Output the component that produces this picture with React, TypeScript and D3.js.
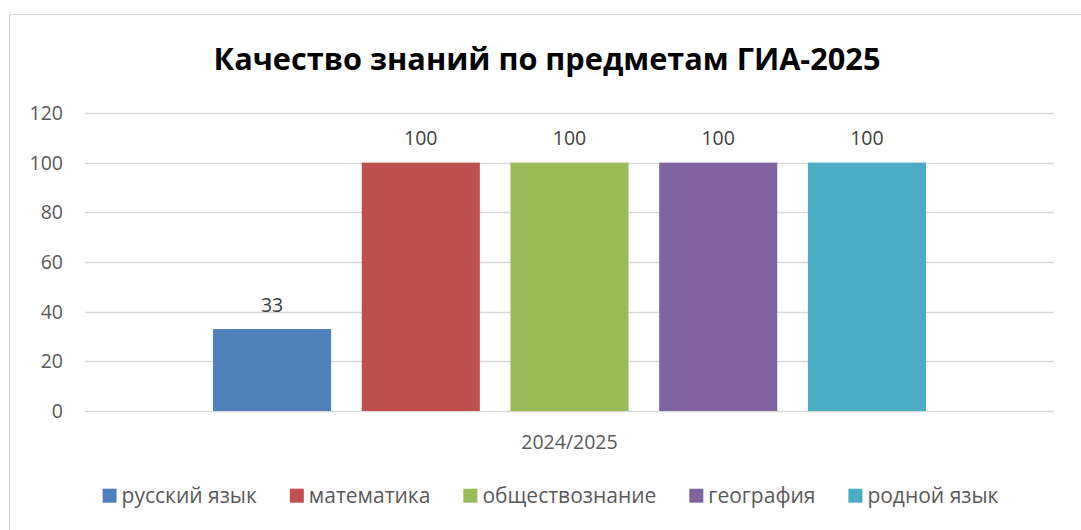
import React, { useEffect, useRef } from "react";
import * as d3 from "d3";

const title = "Качество знаний по предметам ГИА-2025";
const category = "2024/2025";
const seriesNames = ["русский язык", "математика", "обществознание", "география", "родной язык"];
const seriesValues = [33, 100, 100, 100, 100];
const seriesColors = ["#4f81bd", "#c0504d", "#9bbb59", "#8064a2", "#4bacc6"];
const yTicks = [0, 20, 40, 60, 80, 100, 120];

const W = 1081;
const H = 530;
const FONT = "'Open Sans', sans-serif";
const TEXT = "#595959";

export default function App() {
  const ref = useRef<SVGSVGElement | null>(null);

  useEffect(() => {
    const svg = d3.select(ref.current);
    svg.selectAll("*").remove();

    // chart frame
    svg.append("rect")
      .attr("x", 9.5).attr("y", 14.5)
      .attr("width", 1085).attr("height", 530)
      .attr("fill", "#fff").attr("stroke", "#d9d9d9");

    const left = 85, right = 1054, top = 113, bottom = 411;
    const y = d3.scaleLinear().domain([0, 120]).range([bottom, top]);
    const x = d3.scaleBand<string>().domain(seriesNames).range([left, right])
      .paddingInner(0.206).paddingOuter(0.861);

    // gridlines
    svg.append("g").selectAll("line").data(yTicks).join("line")
      .attr("x1", left).attr("x2", right)
      .attr("y1", d => Math.round(y(d)) + 0.5).attr("y2", d => Math.round(y(d)) + 0.5)
      .attr("stroke", "#d9d9d9").attr("stroke-width", 1.5);

    // y tick labels
    svg.append("g").selectAll("text").data(yTicks).join("text")
      .attr("x", 63).attr("y", d => y(d) + 7)
      .attr("text-anchor", "end")
      .attr("font-family", FONT).attr("font-size", 19.5).attr("fill", TEXT)
      .text(d => String(d));

    // bars
    svg.append("g").selectAll("rect").data(seriesNames).join("rect")
      .attr("x", d => x(d)!).attr("width", x.bandwidth())
      .attr("y", (d, i) => y(seriesValues[i]))
      .attr("height", (d, i) => bottom - y(seriesValues[i]))
      .attr("fill", (d, i) => seriesColors[i]);

    // value labels
    svg.append("g").selectAll("text").data(seriesNames).join("text")
      .attr("x", d => x(d)! + x.bandwidth() / 2)
      .attr("y", (d, i) => y(seriesValues[i]) - 17.5)
      .attr("text-anchor", "middle")
      .attr("font-family", FONT).attr("font-size", 19.5).attr("fill", "#404040")
      .text((d, i) => String(seriesValues[i]));

    // category label
    svg.append("text")
      .attr("x", (left + right) / 2).attr("y", 449)
      .attr("text-anchor", "middle")
      .attr("font-family", FONT).attr("font-size", 19.5).attr("fill", TEXT)
      .text(category);

    // title
    svg.append("text")
      .attr("x", 547).attr("y", 70)
      .attr("text-anchor", "middle")
      .attr("font-family", FONT).attr("font-weight", "bold")
      .attr("font-size", 30.7).attr("fill", "#000")
      .text(title);

    // legend
    const lg = svg.append("g");
    const sq = 14, gapText = 5, gapItem = 33;
    const items = seriesNames.map((name, i) => {
      const g = lg.append("g");
      g.append("rect").attr("width", sq).attr("height", sq).attr("y", 488.7)
        .attr("fill", seriesColors[i]);
      const t = g.append("text").attr("x", sq + gapText).attr("y", 503)
        .attr("font-family", FONT).attr("font-size", 21).attr("fill", TEXT)
        .text(name);
      const w = (t.node() as SVGTextElement).getComputedTextLength();
      return { g, w: sq + gapText + w };
    });
    const total = d3.sum(items, d => d.w) + gapItem * (items.length - 1);
    let cx = 550.5 - total / 2;
    items.forEach(it => {
      it.g.attr("transform", `translate(${cx},0)`);
      cx += it.w + gapItem;
    });
  }, []);

  return (
    <svg ref={ref} width={W} height={H}
      style={{ position: "absolute", left: 0, top: 0, display: "block", background: "#fff" }} />
  );
}
